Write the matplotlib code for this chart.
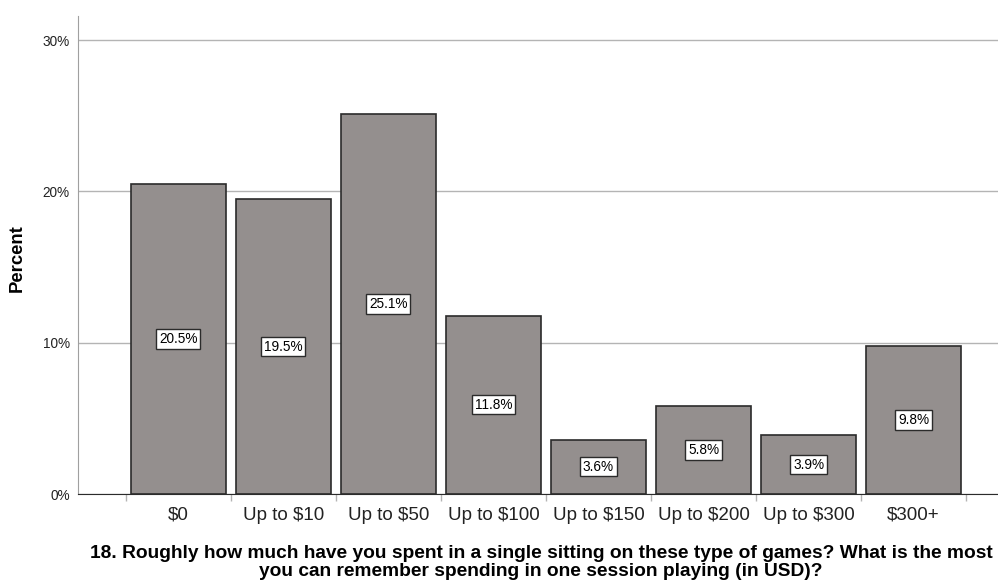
import matplotlib
matplotlib.use("Agg")
import matplotlib.pyplot as plt
from matplotlib.ticker import FixedLocator

categories = ["$0", "Up to $10", "Up to $50", "Up to $100", "Up to $150",
              "Up to $200", "Up to $300", "$300+"]
percent = [20.5, 19.5, 25.1, 11.8, 3.6, 5.8, 3.9, 9.8]
yticks = [0, 10, 20, 30]
ytick_labels = ["0%", "10%", "20%", "30%"]
title_line1 = ("18. Roughly how much have you spent in a single sitting on these type of games? "
               "What is the most")
title_line2 = "you can remember spending in one session playing (in USD)?"

W, H = 998, 583
fig = plt.figure(figsize=(W / 100, H / 100), dpi=100)
left, right, bottom, top = 78, 1014, 494, 16
ax = fig.add_axes([left / W, 1 - bottom / H, (right - left) / W, (bottom - top) / H])

sans = ["Liberation Sans", "DejaVu Sans"]

x = list(range(len(categories)))
ax.bar(x, percent, width=0.903, color="#948f8e", edgecolor="#2b2b2b", linewidth=1.2, zorder=3)
for xi, v in zip(x, percent):
    ax.text(xi, v / 2, f"{v:.1f}%", ha="center", va="center", fontsize=9.8, family=sans,
            zorder=4, bbox=dict(boxstyle="square,pad=0.2", fc="white", ec="#2b2b2b", lw=1.0))

ax.set_xlim(-0.956, 7.956)
ax.set_ylim(0, 31.6)
ax.set_yticks(yticks)
ax.set_yticklabels(ytick_labels, family=sans, fontsize=9.8, color="#222222")
ax.yaxis.grid(True, color="#b4b4b4", linewidth=1.0, zorder=0)
ax.set_xticks(x)
ax.set_xticklabels(categories, family=sans, fontsize=13.5, color="#222222")
ax.tick_params(axis="x", length=0, pad=9)
ax.tick_params(axis="y", length=0, pad=6)
ax.xaxis.set_minor_locator(FixedLocator([i + 0.5 for i in range(-1, len(categories))]))
ax.tick_params(axis="x", which="minor", length=5, color="#b4b4b4", width=1)

for s in ["top", "right"]:
    ax.spines[s].set_visible(False)
ax.spines["left"].set_color("#a0a0a0")
ax.spines["bottom"].set_color("#2b2b2b")

fig.text(17 / W, 1 - 258 / H, "Percent", rotation=90, ha="center", va="center",
         fontsize=13.3, fontweight="bold", family=sans)
cx = 541 / W
fig.text(cx, 1 - 554 / H, title_line1, ha="center", va="center",
         fontsize=13.8, fontweight="bold", family=sans)
fig.text(cx, 1 - 571 / H, title_line2, ha="center", va="center",
         fontsize=13.8, fontweight="bold", family=sans)

fig.savefig("out.png", dpi=100)
